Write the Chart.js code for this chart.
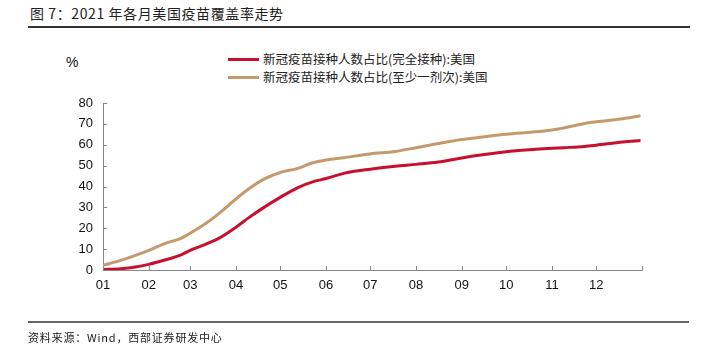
<!DOCTYPE html>
<html>
<head>
<meta charset="utf-8">
<script src="https://cdn.jsdelivr.net/npm/chart.js@4.4.0/dist/chart.umd.min.js"></script>
<style>
  body { margin: 0; background: #fff; }
  #wrap { position: relative; width: 703px; height: 345px; overflow: hidden; font-family: "Noto Sans CJK SC", sans-serif; }
  #chart { position: absolute; left: 0; top: 0; }
  .title { position: absolute; left: 30px; top: 3px; font-size: 14px; color: #222; letter-spacing: 0.6px; }
  .rule-top { position: absolute; left: 28px; top: 26px; width: 662px; height: 1.5px; background: #333; }
  .rule-bottom { position: absolute; left: 28px; top: 321px; width: 661px; height: 2px; background: #666; }
  .source { position: absolute; left: 28px; top: 329px; font-size: 11px; color: #222; letter-spacing: 0.8px; }
  .unit { position: absolute; left: 66px; top: 54px; font: 14px "Liberation Sans", Arial, sans-serif; color: #111; }
  .legend { position: absolute; left: 228px; font-size: 12.5px; color: #222; }
  .legend span { display: inline-block; width: 31px; height: 3px; vertical-align: middle; margin-right: 4px; position: relative; top: -1px; }
</style>
</head>
<body>
<div id="wrap">
  <div class="title">图 7：2021 年各月美国疫苗覆盖率走势</div>
  <div class="rule-top"></div>
  <div class="unit">%</div>
  <div class="legend" style="top:49px"><span style="background:#C8102E"></span>新冠疫苗接种人数占比(完全接种):美国</div>
  <div class="legend" style="top:67px"><span style="background:#C49A6C"></span>新冠疫苗接种人数占比(至少一剂次):美国</div>
  <canvas id="chart" width="703" height="345"></canvas>
  <div class="rule-bottom"></div>
  <div class="source">资料来源：Wind，西部证券研发中心</div>
</div>
<script>
// day of year 2021 (0 = Jan 1)
const days = [0, 12, 22, 31, 43, 52, 59, 69, 78, 90, 99, 109, 120, 132, 142, 151, 163, 181, 198, 212, 227, 243, 257, 273, 293, 304, 312, 326, 334, 352, 364];
// fully vaccinated share, %
const fullDose = [0.2, 0.6, 1.4, 2.7, 5.0, 7.0, 9.4, 12.2, 15.0, 20.5, 25.2, 30.0, 34.8, 39.5, 42.2, 43.8, 46.3, 48.3, 49.7, 50.6, 51.7, 53.7, 55.2, 56.7, 57.8, 58.3, 58.6, 59.2, 59.8, 61.3, 62.0];
// at least one dose share, %
const oneDose = [2.2, 4.6, 7.0, 9.4, 13.0, 14.9, 17.6, 22.0, 26.8, 34.0, 39.0, 43.5, 46.7, 48.7, 51.4, 52.7, 53.8, 55.6, 56.8, 58.6, 60.6, 62.5, 63.7, 65.0, 66.2, 67.1, 68.0, 70.2, 71.0, 72.5, 73.9];
// month boundaries and their labels
const monthStarts = [0, 31, 59, 90, 120, 151, 181, 212, 243, 273, 304, 334, 365];
const monthLabels = ['01', '02', '03', '04', '05', '06', '07', '08', '09', '10', '11', '12', ''];
const yTicks = [0, 10, 20, 30, 40, 50, 60, 70, 80];

const toPoints = vals => vals.map((v, i) => ({ x: days[i], y: v }));

// short tick marks pointing into the plot area
const innerTicks = {
    id: 'innerTicks',
    afterDatasetsDraw(chart) {
        const { ctx, scales: { x, y } } = chart;
        ctx.save();
        ctx.strokeStyle = '#888';
        ctx.lineWidth = 1;
        ctx.beginPath();
        yTicks.forEach(v => {
            const py = Math.round(y.getPixelForValue(v)) + 0.5;
            ctx.moveTo(x.left, py);
            ctx.lineTo(x.left + 4, py);
        });
        monthStarts.forEach(v => {
            const px = Math.round(x.getPixelForValue(v)) + 0.5;
            ctx.moveTo(px, y.bottom);
            ctx.lineTo(px, y.bottom - 4);
        });
        ctx.stroke();
        ctx.restore();
    }
};

new Chart(document.getElementById('chart'), {
    type: 'line',
    data: {
        datasets: [
            {
                label: '新冠疫苗接种人数占比(至少一剂次):美国',
                data: toPoints(oneDose),
                borderColor: '#C49A6C',
                borderWidth: 3,
                pointRadius: 0,
                cubicInterpolationMode: 'monotone'
            },
            {
                label: '新冠疫苗接种人数占比(完全接种):美国',
                data: toPoints(fullDose),
                borderColor: '#C8102E',
                borderWidth: 3,
                pointRadius: 0,
                cubicInterpolationMode: 'monotone'
            }
        ]
    },
    options: {
        responsive: false,
        animation: false,
        layout: { padding: { top: 103, right: 61, bottom: 45, left: 0 } },
        plugins: { legend: { display: false }, tooltip: { enabled: false } },
        scales: {
            x: {
                type: 'linear',
                min: 0,
                max: 365,
                afterBuildTicks: scale => { scale.ticks = monthStarts.map(v => ({ value: v })); },
                afterFit: scale => { scale.height = 30; },
                grid: { display: false, drawTicks: false },
                border: { color: '#888', width: 1 },
                ticks: {
                    autoSkip: false,
                    maxRotation: 0,
                    padding: 8,
                    color: '#111',
                    font: { family: 'Liberation Sans', size: 13 },
                    callback: (v, i) => monthLabels[i]
                }
            },
            y: {
                min: 0,
                max: 80,
                afterBuildTicks: scale => { scale.ticks = yTicks.map(v => ({ value: v })); },
                afterFit: scale => { scale.width = 103; },
                grid: { display: false, drawTicks: false },
                border: { color: '#888', width: 1 },
                ticks: {
                    padding: 10,
                    color: '#111',
                    font: { family: 'Liberation Sans', size: 13 }
                }
            }
        }
    },
    plugins: [innerTicks]
});
</script>
</body>
</html>
